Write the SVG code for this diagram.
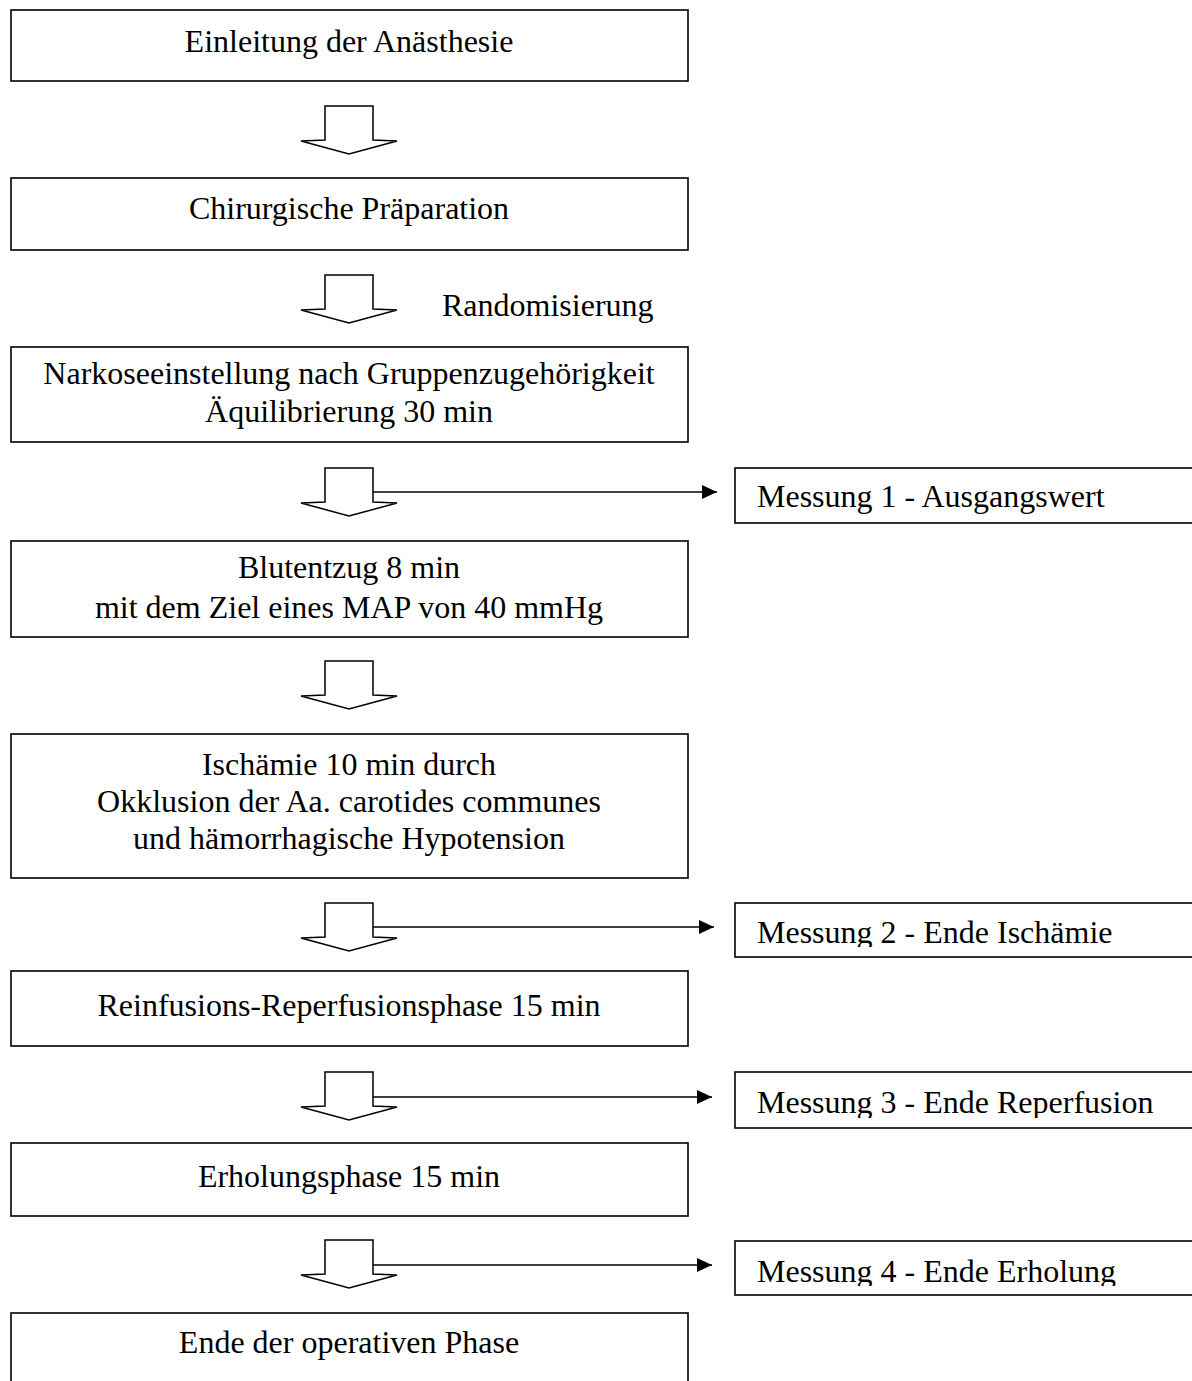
<svg xmlns="http://www.w3.org/2000/svg" width="1192" height="1381" viewBox="0 0 1192 1381">
<style>
  .box { fill: #fff; stroke: #000; stroke-width: 1.6; }
  .t { font-family: "Liberation Serif", "Times New Roman", serif; font-size: 32px; fill: #000; }
  .c { text-anchor: middle; }
  .arr { fill: #fff; stroke: #000; stroke-width: 1.5; stroke-linejoin: miter; }
  .ln { stroke: #000; stroke-width: 1.7; fill: none; }
</style>
<defs>
  <marker id="ah" viewBox="0 0 15 14" refX="15" refY="7" markerWidth="15" markerHeight="14" markerUnits="userSpaceOnUse" orient="auto">
    <path d="M0,0 L15,7 L0,14 Z" fill="#000"/>
  </marker>
  <symbol id="dn" overflow="visible">
    <polygon class="arr" points="325,0 373,0 373,34 397,35 349,48 301,35 325,34"/>
  </symbol>
  <clipPath id="c2"><rect x="735" y="903" width="460" height="44"/></clipPath>
  <clipPath id="c3"><rect x="735" y="1072" width="460" height="46"/></clipPath>
  <clipPath id="c4"><rect x="735" y="1241" width="460" height="45"/></clipPath>
</defs>
<rect width="1192" height="1381" fill="#fff"/>

<g id="n1"><rect class="box" x="11" y="10" width="677" height="71"/><text class="t c" x="349" y="52">Einleitung der Anästhesie</text></g>
<g id="n2"><rect class="box" x="11" y="178" width="677" height="72"/><text class="t c" x="349" y="219">Chirurgische Präparation</text></g>
<g id="n3"><rect class="box" x="11" y="347" width="677" height="95"/><text class="t c" x="349" y="384">Narkoseeinstellung nach Gruppenzugehörigkeit</text><text class="t c" x="349" y="422">Äquilibrierung 30 min</text></g>
<g id="n4"><rect class="box" x="11" y="541" width="677" height="96"/><text class="t c" x="349" y="578">Blutentzug 8 min</text><text class="t c" x="349" y="618">mit dem Ziel eines MAP von 40 mmHg</text></g>
<g id="n5"><rect class="box" x="11" y="734" width="677" height="144"/><text class="t c" x="349" y="775">Ischämie 10 min durch</text><text class="t c" x="349" y="812">Okklusion der Aa. carotides communes</text><text class="t c" x="349" y="849">und hämorrhagische Hypotension</text></g>
<g id="n6"><rect class="box" x="11" y="971" width="677" height="75"/><text class="t c" x="349" y="1016">Reinfusions-Reperfusionsphase 15 min</text></g>
<g id="n7"><rect class="box" x="11" y="1143" width="677" height="73"/><text class="t c" x="349" y="1187">Erholungsphase 15 min</text></g>
<g id="n8"><rect class="box" x="11" y="1313" width="677" height="90"/><text class="t c" x="349" y="1353">Ende der operativen Phase</text></g>

<g id="m1"><rect class="box" x="735" y="468" width="470" height="55"/><text class="t" x="757" y="507">Messung 1 - Ausgangswert</text></g>
<g id="m2"><rect class="box" x="735" y="903" width="470" height="54"/><text class="t" x="757" y="943" clip-path="url(#c2)">Messung 2 - Ende Ischämie</text></g>
<g id="m3"><rect class="box" x="735" y="1072" width="470" height="56"/><text class="t" x="757" y="1113" clip-path="url(#c3)">Messung 3 - Ende Reperfusion</text></g>
<g id="m4"><rect class="box" x="735" y="1241" width="470" height="54"/><text class="t" x="757" y="1282" clip-path="url(#c4)">Messung 4 - Ende Erholung</text></g>

<text id="rand" class="t" x="442" y="316">Randomisierung</text>

<g id="connectors">
  <use href="#dn" x="0" y="106"/>
  <use href="#dn" x="0" y="275"/>
  <use href="#dn" x="0" y="468"/>
  <use href="#dn" x="0" y="661"/>
  <use href="#dn" x="0" y="903"/>
  <use href="#dn" x="0" y="1072"/>
  <use href="#dn" x="0" y="1240"/>
  <line class="ln" x1="373" y1="492" x2="717" y2="492" marker-end="url(#ah)"/>
  <line class="ln" x1="373" y1="927" x2="714" y2="927" marker-end="url(#ah)"/>
  <line class="ln" x1="373" y1="1097" x2="712" y2="1097" marker-end="url(#ah)"/>
  <line class="ln" x1="373" y1="1265" x2="712" y2="1265" marker-end="url(#ah)"/>
</g>
</svg>
